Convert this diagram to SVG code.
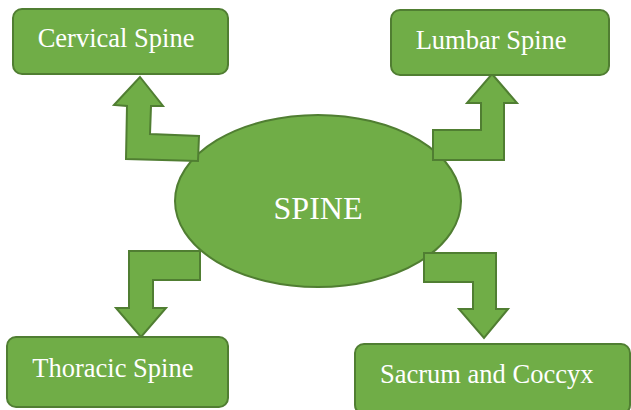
<svg xmlns="http://www.w3.org/2000/svg" width="631" height="410" viewBox="0 0 631 410">
<style>
.shape{fill:#70AD47;stroke:#507E32;stroke-width:2;stroke-linejoin:miter}
.lbl{font-family:"Liberation Serif","Times New Roman",serif;font-size:26.5px;fill:#FFFFFF}
.big{font-family:"Liberation Serif","Times New Roman",serif;font-size:32px;fill:#FFFFFF;text-anchor:middle}
</style>
<rect width="631" height="410" fill="#FFFFFF"/>
<g id="spine">
<ellipse class="shape" cx="318" cy="201" rx="143" ry="86"/>
<text class="big" x="318" y="219">SPINE</text>
</g>
<g id="connectors">
<polygon class="shape" points="140,77 163,106 151,106 150,134 199,136 198,161 126,159 127,106 114,105"/>
<polygon class="shape" points="492,74 517,103 504,103 504,160 433,160 433,130 481,130 481,103 467,103"/>
<polygon class="shape" points="129,251 200,251 200,280 153,280 153,308 166,308 141,337 116,308 129,308"/>
<polygon class="shape" points="424,253 496,253 496,309 508,309 484,338 459,309 473,309 473,282 424,282"/>
</g>
<g id="cervical">
<rect class="shape" x="13" y="9" width="215" height="65" rx="9"/>
<text class="lbl" x="37.7" y="46.7">Cervical Spine</text>
</g>
<g id="lumbar">
<rect class="shape" x="391" y="10" width="218" height="65" rx="9"/>
<text class="lbl" x="415.7" y="49">Lumbar Spine</text>
</g>
<g id="thoracic">
<rect class="shape" x="7" y="337" width="221" height="70" rx="9"/>
<text class="lbl" x="32.3" y="376.7">Thoracic Spine</text>
</g>
<g id="sacrum">
<rect class="shape" x="355" y="344" width="275" height="70" rx="9"/>
<text class="lbl" x="380" y="383.3">Sacrum and Coccyx</text>
</g>
</svg>
